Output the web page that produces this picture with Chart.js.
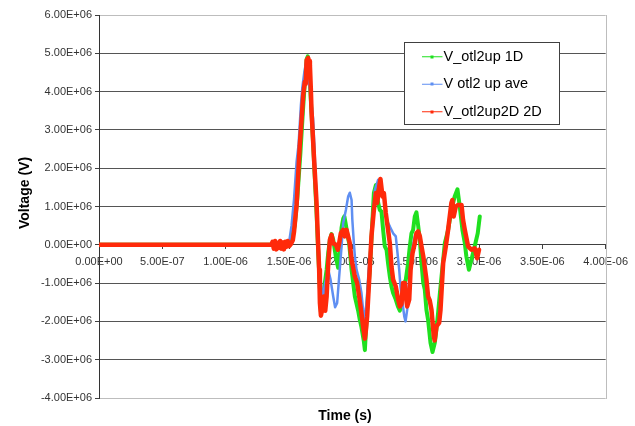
<!DOCTYPE html>
<html>
<head>
<meta charset="utf-8">
<script src="https://cdn.jsdelivr.net/npm/chart.js@4.4.1/dist/chart.umd.min.js"></script>
<style>
  html, body { margin: 0; padding: 0; background: #ffffff; }
  canvas { display: block; }
</style>
</head>
<body>
<canvas id="chart" width="635" height="426"></canvas>
<script>
// Time in microseconds, voltage in megavolts (converted to s and V when plotted)
const time1D = [0, 1.36, 1.40, 1.45, 1.50, 1.52, 1.545, 1.565, 1.59, 1.61, 1.625, 1.64, 1.648, 1.658, 1.672, 1.688, 1.703, 1.718, 1.732, 1.745, 1.752, 1.76, 1.77, 1.783, 1.797, 1.81, 1.823, 1.836, 1.849, 1.86, 1.87, 1.888, 1.90, 1.915, 1.928, 1.937, 1.95, 1.962, 1.975, 1.994, 2.02, 2.046, 2.059, 2.072, 2.09, 2.099, 2.112, 2.125, 2.138, 2.159, 2.17, 2.186, 2.196, 2.204, 2.217, 2.23, 2.243, 2.256, 2.27, 2.282, 2.296, 2.309, 2.322, 2.343, 2.36, 2.375, 2.388, 2.40, 2.422, 2.44, 2.454, 2.467, 2.48, 2.493, 2.506, 2.519, 2.533, 2.546, 2.56, 2.572, 2.585, 2.598, 2.617, 2.633, 2.651, 2.664, 2.677, 2.69, 2.704, 2.717, 2.73, 2.756, 2.782, 2.808, 2.83, 2.848, 2.869, 2.888, 2.90, 2.92, 2.94, 2.966, 2.99, 3.006];
const volt1D = [0, 0, 0.02, -0.03, 0.03, 0.12, 0.5, 1.2, 2.4, 3.5, 4.25, 4.85, 4.92, 4.65, 3.8, 2.8, 1.8, 0.8, -0.3, -1.2, -1.75, -1.72, -1.35, -1.0, -0.65, -0.2, 0.13, 0.28, 0.13, -0.1, -0.32, -0.6, -0.15, 0.45, 0.68, 0.74, 0.5, 0.25, 0.04, -0.65, -1.35, -1.72, -1.96, -2.15, -2.5, -2.75, -1.96, -1.2, -0.65, 0.65, 1.35, 1.56, 1.3, 1.09, 0.91, 0.87, 0.39, -0.04, -0.13, -0.48, -0.83, -1.09, -1.26, -1.43, -1.61, -1.72, -1.52, -1.09, -0.91, -0.48, -0.04, 0.30, 0.39, 0.74, 0.85, 0.52, 0.13, -0.48, -1.0, -1.17, -1.70, -1.96, -2.56, -2.8, -2.56, -2.2, -1.78, -1.3, -0.83, -0.4, 0.04, 0.39, 0.91, 1.26, 1.45, 1.0, 0.39, 0.04, -0.30, -0.65, -0.39, -0.04, 0.30, 0.74];

const timeAve = [0, 1.36, 1.45, 1.50, 1.52, 1.54, 1.56, 1.575, 1.594, 1.605, 1.62, 1.632, 1.642, 1.655, 1.668, 1.68, 1.69, 1.70, 1.71, 1.72, 1.73, 1.744, 1.757, 1.77, 1.78, 1.791, 1.81, 1.828, 1.849, 1.864, 1.88, 1.896, 1.915, 1.928, 1.949, 1.967, 1.98, 1.994, 2.0, 2.012, 2.02, 2.033, 2.054, 2.072, 2.085, 2.095, 2.112, 2.13, 2.151, 2.165, 2.178, 2.204, 2.23, 2.256, 2.27, 2.296, 2.322, 2.343, 2.354, 2.37, 2.38, 2.396, 2.41, 2.42, 2.433, 2.449, 2.467, 2.493, 2.515];
const voltAve = [0, 0, 0.02, 0.05, 0.5, 1.2, 2.17, 2.6, 3.65, 4.1, 4.48, 4.72, 4.5, 4.3, 4.0, 3.6, 3.3, 2.6, 1.8, 1.0, 0.2, -0.65, -1.17, -1.35, -1.1, -0.91, -0.65, -0.91, -1.35, -1.63, -1.52, -0.83, -0.04, 0.57, 0.91, 1.26, 1.36, 1.17, 0.65, 0.04, -0.30, -0.65, -0.91, -1.26, -1.70, -1.96, -1.52, -0.6, 0.22, 0.9, 1.43, 1.70, 1.52, 1.09, 0.65, 0.48, 0.30, 0.22, -0.13, -0.65, -1.09, -1.52, -1.87, -2.0, -1.70, -0.91, -0.22, 0.22, 0.35];

const time2D = [0, 1.36, 1.37, 1.38, 1.39, 1.40, 1.41, 1.42, 1.43, 1.44, 1.45, 1.46, 1.47, 1.48, 1.49, 1.50, 1.515, 1.53, 1.54, 1.55, 1.56, 1.572, 1.585, 1.60, 1.612, 1.625, 1.632, 1.639, 1.651, 1.658, 1.665, 1.672, 1.678, 1.699, 1.717, 1.73, 1.738, 1.744, 1.752, 1.758, 1.765, 1.775, 1.786, 1.797, 1.81, 1.823, 1.836, 1.849, 1.87, 1.885, 1.896, 1.909, 1.928, 1.94, 1.954, 1.967, 1.98, 1.994, 2.02, 2.038, 2.054, 2.072, 2.085, 2.099, 2.108, 2.117, 2.133, 2.151, 2.17, 2.186, 2.196, 2.212, 2.222, 2.238, 2.249, 2.264, 2.282, 2.296, 2.309, 2.322, 2.343, 2.362, 2.375, 2.388, 2.40, 2.414, 2.422, 2.433, 2.449, 2.46, 2.475, 2.493, 2.506, 2.519, 2.533, 2.546, 2.56, 2.585, 2.598, 2.611, 2.625, 2.643, 2.65, 2.664, 2.685, 2.696, 2.717, 2.738, 2.756, 2.782, 2.79, 2.80, 2.817, 2.835, 2.862, 2.874, 2.888, 2.914, 2.94, 2.966, 2.985, 3.0];
const volt2D = [0, 0, 0.08, -0.1, 0.1, -0.12, 0.05, -0.08, 0.1, -0.1, 0.06, -0.12, 0.08, -0.05, 0.1, -0.04, 0.02, 0.12, 0.35, 0.7, 1.04, 1.8, 2.6, 3.3, 3.91, 4.26, 4.2, 4.82, 4.88, 4.8, 4.69, 4.1, 3.48, 2.17, 1.13, 0.0, -0.65, -1.52, -1.85, -1.75, -1.70, -1.35, -1.72, -1.35, -0.48, 0.13, 0.26, 0.04, 0, -0.13, 0.04, 0.30, 0.39, 0.22, 0.39, 0.22, 0.04, -0.39, -0.83, -1.0, -1.35, -1.78, -2.13, -2.45, -2.2, -1.87, -0.91, 0.22, 0.91, 1.35, 1.09, 1.52, 1.72, 1.26, 1.35, 0.83, 0.39, 0.04, -0.57, -0.91, -1.09, -1.43, -1.61, -1.55, -1.0, -1.0, -1.35, -1.61, -1.43, -0.65, -0.22, 0.04, 0.30, 0.35, 0.22, -0.04, -0.30, -0.91, -1.35, -1.45, -1.70, -2.39, -2.5, -2.13, -2.04, -1.70, -0.48, -0.04, 0.39, 1.09, 1.17, 0.74, 1.0, 1.04, 1.04, 0.65, 0.39, -0.04, -0.13, -0.09, -0.35, -0.13];

// Axis ticks (time in microseconds, voltage in megavolts) and their printed labels
const xTickValues = [0, 0.5, 1.0, 1.5, 2.0, 2.5, 3.0, 3.5, 4.0];
const xTickLabels = ['0.00E+00', '5.00E-07', '1.00E-06', '1.50E-06', '2.00E-06', '2.50E-06', '3.00E-06', '3.50E-06', '4.00E-06'];
const yTickValues = [-4, -3, -2, -1, 0, 1, 2, 3, 4, 5, 6];
const yTickLabels = ['-4.00E+06', '-3.00E+06', '-2.00E+06', '-1.00E+06', '0.00E+00', '1.00E+06', '2.00E+06', '3.00E+06', '4.00E+06', '5.00E+06', '6.00E+06'];

const seriesNames = ['V_otl2up 1D', 'V otl2 up ave', 'V_otl2up2D 2D'];
const seriesColors = ['#1fe01f', '#5f8ff2', '#ff2a0a'];

const US = 1e-6, MV = 1e6;
const toPoints = (t, v) => t.map((ti, i) => ({ x: ti * US, y: v[i] * MV }));

const FONT = '"Liberation Sans", Arial, sans-serif';
const yMin = yTickValues[0] * MV, yMax = yTickValues[yTickValues.length - 1] * MV;

// Legend frame (white box with dark border) in canvas pixels
const legendBox = { left: 404.5, top: 42.5, width: 155, height: 82 };

const framePlugin = {
  id: 'frame',
  afterUpdate(chart) {
    const lg = chart.legend;
    if (!lg) return;
    lg.left = legendBox.left + 10.75;
    lg.top = legendBox.top - 6;
    lg.width = legendBox.width;
    lg.height = 140;
    lg.right = lg.left + lg.width;
    lg.bottom = lg.top + lg.height;
  },
  beforeDatasetsDraw(chart) {
    const { ctx, chartArea: a } = chart;
    ctx.save();
    // right edge of the plot area
    ctx.strokeStyle = '#bdbdbd';
    ctx.lineWidth = 1;
    const xr = Math.round(a.right) + 0.5;
    ctx.beginPath();
    ctx.moveTo(xr, Math.round(a.top));
    ctx.lineTo(xr, Math.round(a.bottom) + 1);
    ctx.stroke();
    // legend panel
    ctx.fillStyle = '#ffffff';
    ctx.fillRect(legendBox.left, legendBox.top, legendBox.width, legendBox.height);
    ctx.strokeStyle = '#404040';
    ctx.strokeRect(legendBox.left, legendBox.top, legendBox.width, legendBox.height);
    ctx.restore();
    const lg = chart.legend;
    if (lg) {
      lg.draw();
      // small square marker in the middle of each legend line sample
      const lo = lg.options.labels;
      const item = Math.max(lo.font.size, lo.boxHeight);
      ctx.save();
      lg.legendItems.forEach((it, i) => {
        const cx = lg.left + lo.padding + lo.boxWidth / 2;
        const cy = lg.top + lo.padding + i * (item + lo.padding) + lo.font.size / 2;
        ctx.fillStyle = seriesColors[it.datasetIndex];
        ctx.fillRect(Math.round(cx) - 1.5, Math.round(cy) - 1.5, 3, 3);
      });
      ctx.restore();
    }
  },
  afterDraw(chart) {
    const { ctx, chartArea: a } = chart;
    ctx.save();
    ctx.fillStyle = '#000000';
    ctx.font = 'bold 14px ' + FONT;
    ctx.textAlign = 'center';
    ctx.textBaseline = 'middle';
    ctx.fillText('Time (s)', a.left + 246, a.bottom + 18);
    ctx.translate(a.left - 74, a.top + 178);
    ctx.rotate(-Math.PI / 2);
    ctx.fillText('Voltage (V)', 0, 0);
    ctx.restore();
  }
};

new Chart(document.getElementById('chart'), {
  type: 'scatter',
  data: {
    datasets: [
      { label: seriesNames[0], data: toPoints(time1D, volt1D), borderColor: seriesColors[0], backgroundColor: seriesColors[0], borderWidth: 4, order: 3 },
      { label: seriesNames[1], data: toPoints(timeAve, voltAve), borderColor: seriesColors[1], backgroundColor: seriesColors[1], borderWidth: 2.5, order: 2 },
      { label: seriesNames[2], data: toPoints(time2D, volt2D), borderColor: seriesColors[2], backgroundColor: seriesColors[2], borderWidth: 4.5, order: 1 }
    ].map(d => Object.assign(d, { showLine: true, pointRadius: 0, pointHoverRadius: 0, tension: 0, borderJoinStyle: 'round', borderCapStyle: 'round' }))
  },
  options: {
    responsive: false,
    animation: false,
    devicePixelRatio: 1,
    events: [],
    layout: { padding: { left: 0, top: 15, right: 29, bottom: 28 } },
    scales: {
      x: {
        type: 'linear',
        min: xTickValues[0] * US,
        max: xTickValues[xTickValues.length - 1] * US,
        position: { y: 0 },
        afterBuildTicks: s => { s.ticks = xTickValues.map(v => ({ value: v * US })); },
        grid: { drawOnChartArea: false, drawTicks: true, tickLength: 4, tickColor: '#404040' },
        border: { display: true, color: '#404040', width: 1 },
        ticks: {
          callback: (v, i) => xTickLabels[i],
          font: { family: FONT, size: 11 },
          color: '#333333',
          padding: 7,
          maxRotation: 0,
          autoSkip: false
        }
      },
      y: {
        type: 'linear',
        min: yMin,
        max: yMax,
        afterBuildTicks: s => { s.ticks = yTickValues.map(v => ({ value: v * MV })); },
        afterFit: s => { s.width = 99; },
        grid: {
          color: c => (c.tick && (c.tick.value === yMin || c.tick.value === yMax)) ? '#bdbdbd' : '#555555',
          tickColor: '#404040',
          tickLength: 4,
          lineWidth: 1
        },
        border: { display: true, color: '#333333', width: 1 },
        ticks: {
          callback: (v, i) => yTickLabels[i],
          font: { family: FONT, size: 11 },
          color: '#333333',
          padding: 3,
          autoSkip: false
        }
      }
    },
    plugins: {
      title: { display: false },
      tooltip: { enabled: false },
      legend: {
        display: true,
        position: 'chartArea',
        align: 'start',
        labels: {
          usePointStyle: true,
          boxWidth: 8,
          boxHeight: 14.5,
          padding: 13,
          color: '#000000',
          font: { family: FONT, size: 14.5 },
          generateLabels: chart => {
            const items = Chart.defaults.plugins.legend.labels.generateLabels(chart);
            items.forEach(it => {
              it.pointStyle = 'line';
              it.lineWidth = 1;
              it.strokeStyle = seriesColors[it.datasetIndex];
              it.fillStyle = seriesColors[it.datasetIndex];
            });
            return items.sort((p, q) => p.datasetIndex - q.datasetIndex);
          }
        }
      }
    }
  },
  plugins: [framePlugin]
});
</script>
</body>
</html>
